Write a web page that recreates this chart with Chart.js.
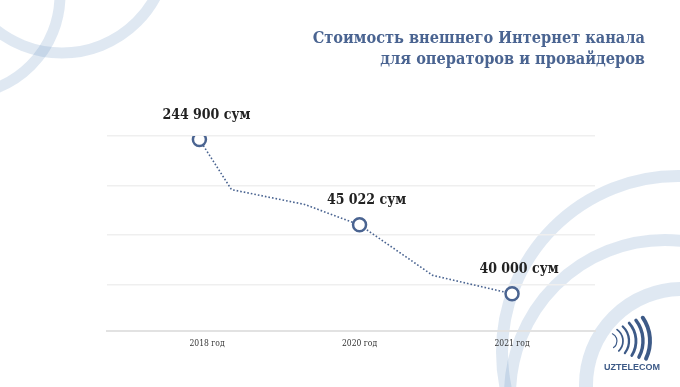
<!DOCTYPE html>
<html>
<head>
<meta charset="utf-8">
<script src="https://cdn.jsdelivr.net/npm/chart.js@4.4.1/dist/chart.umd.min.js"></script>
<style>
  html, body { margin: 0; padding: 0; background: #fff; }
  #wrap { position: relative; width: 680px; height: 387px; overflow: hidden; }
  #title {
    position: absolute; right: 35px; top: 27px;
    font-family: "DejaVu Serif Condensed", "DejaVu Serif", serif; font-stretch: condensed;
    font-weight: bold; font-size: 16.2px;
    line-height: 21px; color: #4a6491; text-align: right; white-space: nowrap;
  }
</style>
</head>
<body>
<div id="wrap">
  <canvas id="mychart" width="680" height="387"></canvas>
  <div id="title">Стоимость внешнего Интернет канала<br>для операторов и провайдеров</div>
</div>
<script>
// подписи по оси X (позиции 0, 1, 2)
const yearLabels = ['2018 год', '2020 год', '2021 год'];
// точки линии (x — позиция по оси лет, y — условная высота)
const lineX = [-0.05, 0.16, 0.64, 1.0, 1.48, 2.0];
const lineY = [3.93, 2.92, 2.62, 2.21, 1.19, 0.82];
// какие точки отмечены кружком и подписаны
const markedIdx = [0, 3, 5];
const priceLabels = ['244 900 сум', '45 022 сум', '40 000 сум'];
const yTicks = [1, 2, 3, 4];

const blue = '#4a6491';
const slab = '"DejaVu Serif Condensed", "DejaVu Serif", serif';

// фоновые кольца и логотип
const decorPlugin = {
  id: 'decor',
  beforeDraw(chart) {
    const c = chart.ctx;
    c.save();
    c.strokeStyle = 'rgba(110,150,195,0.22)';
    const rings = [[62, -53, 106, 11], [-40, -5, 100, 11], [678, 352, 176, 12], [665, 395, 155, 12], [682, 385, 96, 14]];
    rings.forEach(r => {
      c.lineWidth = r[3];
      c.beginPath();
      c.arc(r[0], r[1], r[2], 0, Math.PI * 2);
      c.stroke();
    });
    c.restore();
  },
  afterDraw(chart) {
    const c = chart.ctx;
    c.save();
    // значок
    c.strokeStyle = '#3d5a87';
    c.lineCap = 'round';
    const radii = [8, 14, 20, 27, 34, 41];
    const ang = [60, 50, 42, 37, 33, 30];
    radii.forEach((r, i) => {
      c.lineWidth = 1.2 + i * 0.55;
      c.beginPath();
      c.arc(609, 341, r, -ang[i] * Math.PI / 180 - 0.08, ang[i] * Math.PI / 180 - 0.08);
      c.stroke();
    });
    c.fillStyle = '#3d5a87';
    c.font = 'bold 9px "Liberation Sans", sans-serif';
    c.textAlign = 'center';
    c.textBaseline = 'middle';
    c.fillText('UZTELECOM', 632, 368);
    c.restore();
  }
};

// подписи цен над точками
const priceLabelPlugin = {
  id: 'priceLabels',
  afterDatasetsDraw(chart) {
    const c = chart.ctx;
    const meta = chart.getDatasetMeta(0);
    c.save();
    c.fillStyle = '#222';
    c.font = 'bold 14px ' + slab;
    c.textAlign = 'center';
    c.textBaseline = 'middle';
    markedIdx.forEach((idx, i) => {
      const p = meta.data[idx];
      c.fillText(priceLabels[i], p.x + 7, p.y - 24);
    });
    c.restore();
  }
};

const ctx = document.getElementById('mychart').getContext('2d');
const myChart = new Chart(ctx, {
  type: 'line',
  data: {
    datasets: [{
      data: lineX.map((x, i) => ({ x: x, y: lineY[i] })),
      borderColor: blue,
      borderWidth: 1.6,
      borderDash: [1.6, 2],
      tension: 0,
      pointRadius: lineX.map((x, i) => markedIdx.includes(i) ? 6.5 : 0),
      pointBorderWidth: 2.5,
      pointBackgroundColor: '#fff',
      pointBorderColor: blue
    }]
  },
  options: {
    responsive: false,
    animation: false,
    layout: { padding: { left: 107, right: 85, top: 136, bottom: 30 } },
    plugins: { legend: { display: false }, tooltip: { enabled: false } },
    scales: {
      x: {
        type: 'linear',
        min: -0.656,
        max: 2.544,
        afterBuildTicks(scale) { scale.ticks = yearLabels.map((l, i) => ({ value: i })); },
        grid: { display: false, drawTicks: false },
        border: { display: true, color: '#e2e2e2', width: 2 },
        ticks: {
          padding: 8,
          color: '#333',
          font: { family: slab, size: 8.5 },
          callback: (v) => yearLabels[v]
        }
      },
      y: {
        min: 0.073,
        max: 4,
        afterBuildTicks(scale) { scale.ticks = yTicks.map(v => ({ value: v })); },
        grid: { color: '#efefef', lineWidth: 1.5, drawTicks: false },
        border: { display: false },
        ticks: { display: false }
      }
    }
  },
  plugins: [decorPlugin, priceLabelPlugin]
});
</script>
</body>
</html>
